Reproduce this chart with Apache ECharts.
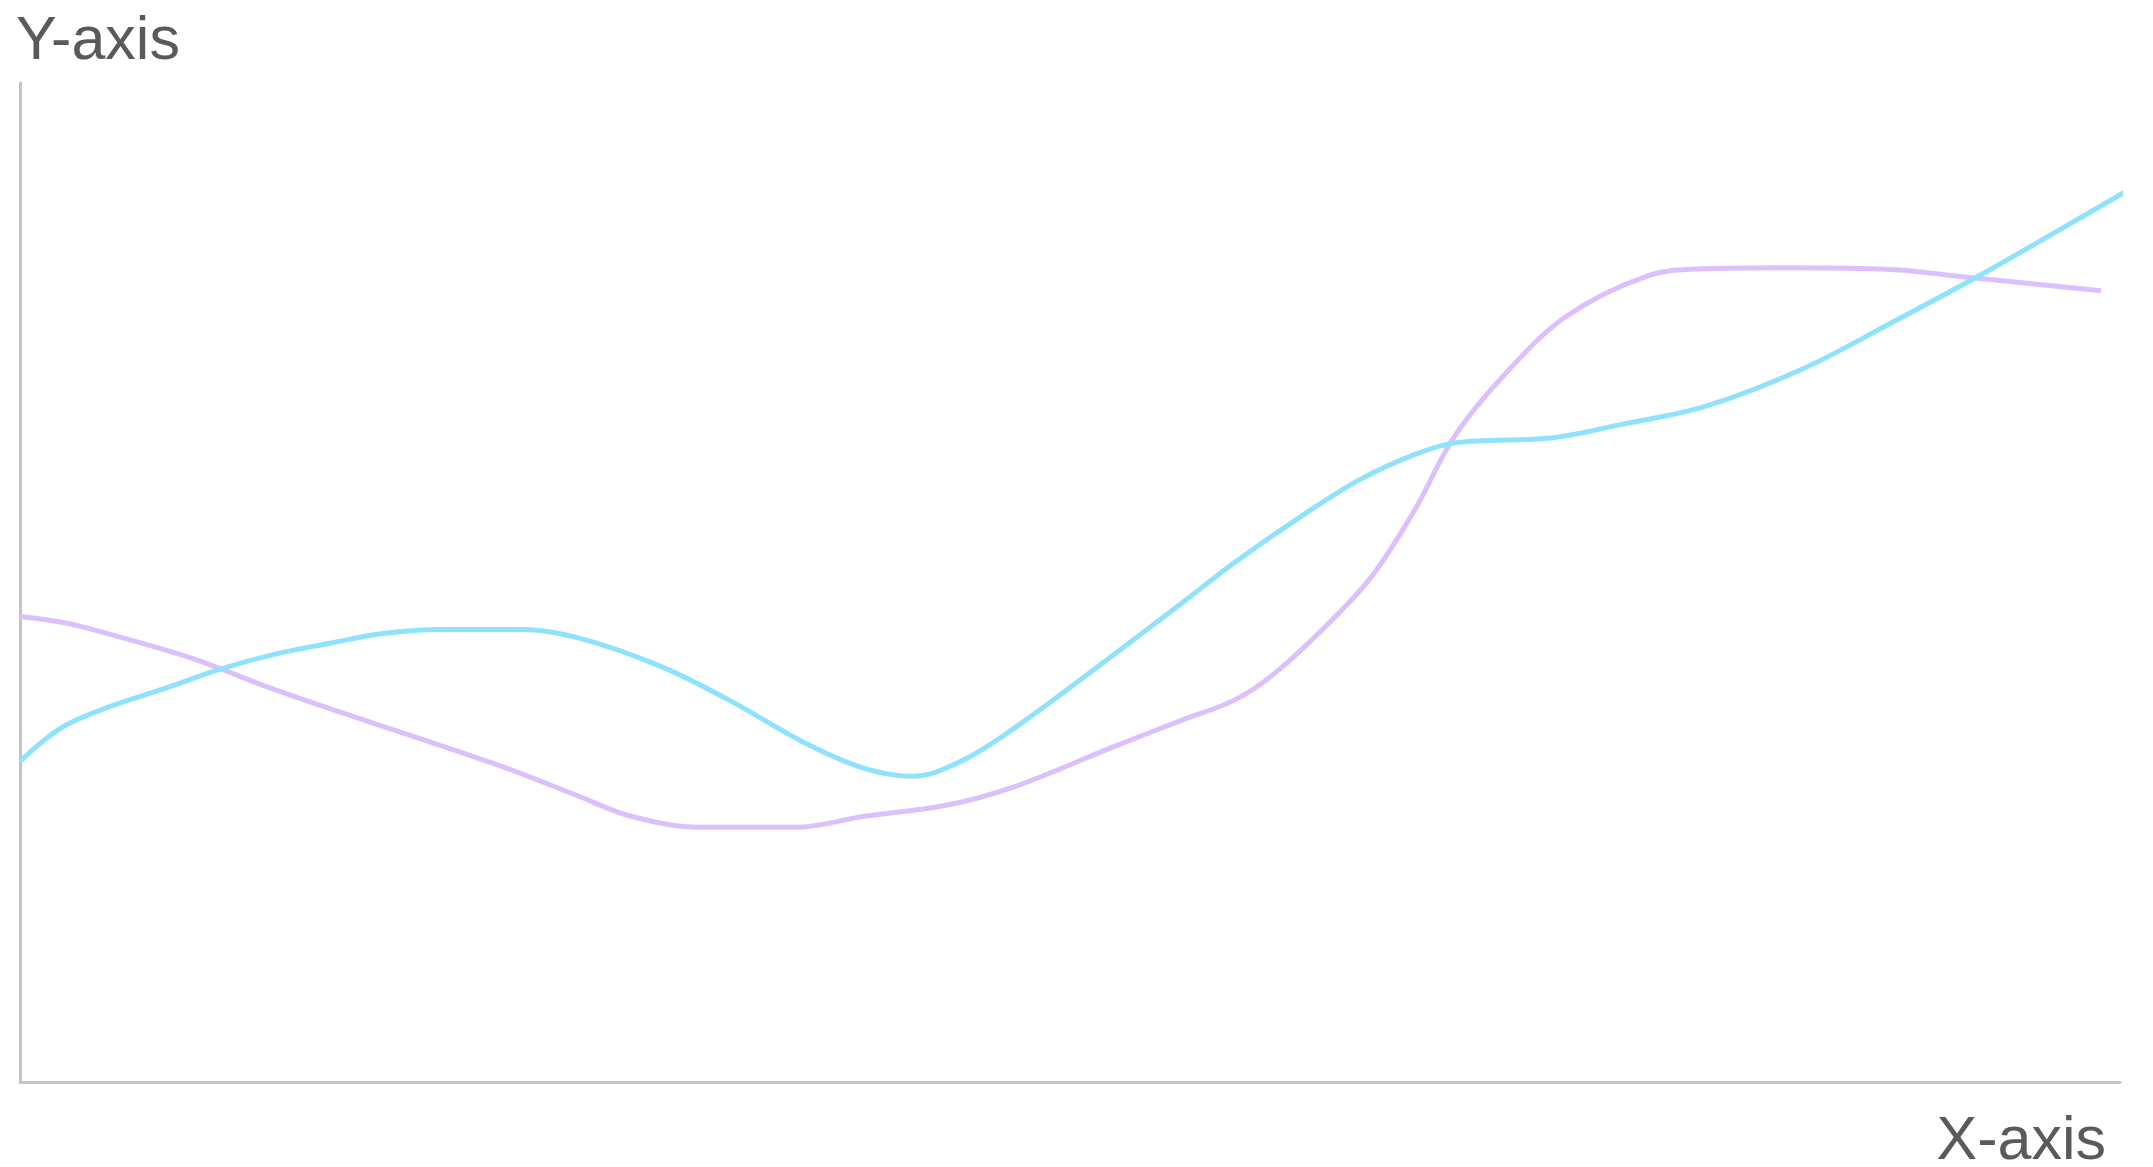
<!DOCTYPE html>
<html>
<head>
<meta charset="utf-8">
<script src="https://cdn.jsdelivr.net/npm/echarts@6/dist/echarts.min.js"></script>
<style>
html,body{margin:0;padding:0;background:#fff;}
#chart{width:2153px;height:1167px;}
</style>
</head>
<body>
<div id="chart"></div>
<script>
// x positions and values (x: 0-100, y: 0-100)
const blueX = [0, 2, 4.3, 6.9, 9.5, 12.1, 14.7, 17.3, 20, 23.9, 26.5, 30.4, 33.7, 37.6, 40.2, 42.5, 44.8, 47.4, 51.4, 55.3, 57.9, 61.2, 63.8, 66.4, 68.4, 73, 76.2, 80.2, 84.8, 89.3, 93.2, 97.2, 100.4];
const blueY = [32.1, 35.5, 37.6, 39.4, 41.3, 42.8, 43.9, 44.9, 45.3, 45.3, 44.5, 41.7, 38.3, 33.7, 31.4, 30.6, 32.1, 35.5, 41.7, 47.9, 52.1, 56.9, 60.3, 62.8, 64.0, 64.5, 65.8, 67.6, 71.3, 76.2, 80.6, 85.4, 89.3];
const pinkX = [0, 2.3, 4.3, 8.2, 12.1, 16.7, 19.3, 23.2, 26.5, 29.1, 32.4, 37, 40.2, 44.1, 47.4, 52, 55.3, 57.9, 59.8, 62.5, 64.4, 66.4, 68.3, 70.6, 73.6, 77.5, 80.1, 84, 89.3, 92.5, 95.8, 99.1];
const pinkY = [46.6, 45.9, 44.8, 42.4, 39.3, 36.0, 34.2, 31.4, 28.7, 26.6, 25.5, 25.5, 26.6, 27.7, 29.6, 33.5, 36.2, 38.3, 41.0, 46.3, 50.7, 57.2, 64.6, 70.6, 76.6, 80.7, 81.4, 81.5, 81.3, 80.6, 79.9, 79.2];
const xName = 'X-axis';
const yName = 'Y-axis';

const pair = (xs, ys) => xs.map((x, i) => [x, ys[i]]);

const chart = echarts.init(document.getElementById('chart'));
const axisLine = { show: true, lineStyle: { color: '#c4c4c4', width: 3 } };
const nameStyle = { fontFamily: 'Liberation Sans, Arial, sans-serif', fontSize: 61, color: '#5a5a5a' };
chart.setOption({
  animation: false,
  backgroundColor: '#ffffff',
  grid: { left: 20, right: 33, top: 83, bottom: 85, outerBoundsMode: 'none', containLabel: false },
  xAxis: {
    type: 'value', min: 0, max: 100,
    name: xName, nameLocation: 'end', nameGap: -14,
    nameTextStyle: Object.assign({ align: 'right', verticalAlign: 'top', padding: [30, 0, 0, 0] }, nameStyle),
    axisLine: axisLine, axisTick: { show: false }, axisLabel: { show: false }, splitLine: { show: false }
  },
  yAxis: {
    type: 'value', min: 0, max: 100,
    name: yName, nameLocation: 'end', nameGap: 10,
    nameTextStyle: Object.assign({ align: 'left', verticalAlign: 'bottom', padding: [0, 0, 0, -4] }, nameStyle),
    axisLine: axisLine, axisTick: { show: false }, axisLabel: { show: false }, splitLine: { show: false }
  },
  series: [
    { type: 'line', data: pair(pinkX, pinkY), smooth: 0.35, showSymbol: false, clip: false,
      lineStyle: { color: '#dcc0fe', width: 5 } },
    { type: 'line', data: pair(blueX, blueY), smooth: 0.35, showSymbol: false, clip: false,
      lineStyle: { color: '#8ee2fd', width: 5 } }
  ]
});
</script>
</body>
</html>
